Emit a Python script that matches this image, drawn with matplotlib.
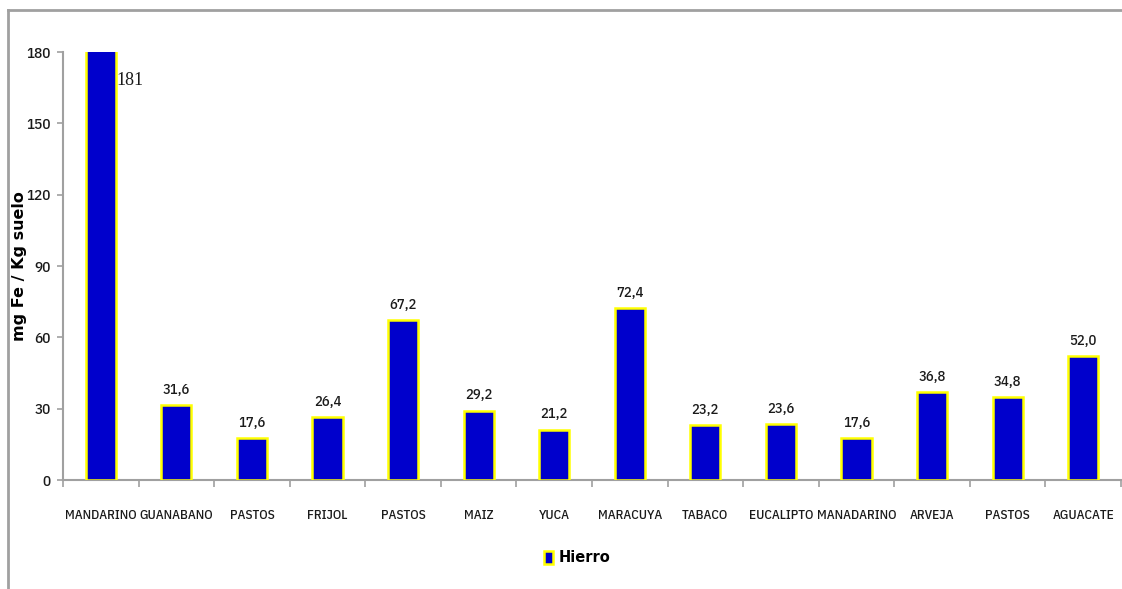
import matplotlib
matplotlib.use("Agg")
import matplotlib.pyplot as plt
from matplotlib.lines import Line2D
from matplotlib.ticker import FixedLocator, NullFormatter

categories = ["MANDARINO", "GUANABANO", "PASTOS", "FRIJOL", "PASTOS", "MAIZ", "YUCA",
              "MARACUYA", "TABACO", "EUCALIPTO", "MANADARINO", "ARVEJA", "PASTOS", "AGUACATE"]
hierro = [181, 31.6, 17.6, 26.4, 67.2, 29.2, 21.2, 72.4, 23.2, 23.6, 17.6, 36.8, 34.8, 52.0]
value_labels = ["181", "31,6", "17,6", "26,4", "67,2", "29,2", "21,2", "72,4", "23,2",
                "23,6", "17,6", "36,8", "34,8", "52,0"]
yticks = [0, 30, 60, 90, 120, 150, 180]

narrow = ["IBM Plex Sans Condensed", "Liberation Sans Narrow", "DejaVu Sans"]
txtcol = "#1a1a1a"
gray = "#a0a0a0"

fig = plt.figure(figsize=(11.22, 5.89), dpi=100)
ax = fig.add_axes([63/1122, 1-480/589, (1121-63)/1122, (480-52)/589])

x = list(range(len(categories)))
ax.bar(x, hierro, width=0.4, color="#0000CC", edgecolor="#FFFF00", linewidth=1.8,
       label="Hierro", zorder=3)

ax.set_xlim(-0.5, len(categories) - 0.5)
ax.set_ylim(0, 180)
ax.set_yticks(yticks)
ax.set_yticklabels([str(t) for t in yticks], family=narrow, fontsize=11, weight=500, color=txtcol)
ax.set_xticks(x)
ax.set_xticklabels(categories, family=narrow, fontsize=9.5, weight=500, color=txtcol)
ax.xaxis.set_minor_locator(FixedLocator([i - 0.5 for i in range(len(categories) + 1)]))
ax.xaxis.set_minor_formatter(NullFormatter())
ax.tick_params(axis="x", which="major", length=0, pad=21)
ax.tick_params(axis="x", which="minor", length=5, width=1.2, color=gray)
ax.tick_params(axis="y", length=4, width=1.2, color=gray, pad=5)

for s in ["top", "right"]:
    ax.spines[s].set_visible(False)
for s in ["left", "bottom"]:
    ax.spines[s].set_color(gray)
    ax.spines[s].set_linewidth(1.5)

for i, (v, lab) in enumerate(zip(hierro, value_labels)):
    if v > 180:
        ax.text(i + 0.21, 168, lab, ha="left", va="center", family=["Liberation Serif", "DejaVu Serif"],
                fontsize=13, color=txtcol, zorder=4)
    else:
        ax.annotate(lab, (i, v), xytext=(0, 6), textcoords="offset points",
                    ha="center", va="bottom", family=narrow, fontsize=10.5, weight=500, color=txtcol)

ax.set_ylabel("mg Fe / Kg suelo", fontsize=11.5, fontweight="bold", color="black",
              family="DejaVu Sans")
ax.yaxis.set_label_coords(-(63 - 27) / (1121 - 63), 0.5)

fig.legend(loc="center", bbox_to_anchor=(577/1122, 1-558/589), frameon=False,
           prop={"weight": "bold", "size": 10.5, "family": ["DejaVu Sans"]},
           handlelength=0.6, handleheight=1.0, handletextpad=0.4)

fig.add_artist(Line2D([8/1122, 1], [1-10/589, 1-10/589], color=gray, lw=2, transform=fig.transFigure))
fig.add_artist(Line2D([8/1122, 8/1122], [0, 1-10/589], color=gray, lw=2, transform=fig.transFigure))

fig.savefig("out.png", dpi=100)
